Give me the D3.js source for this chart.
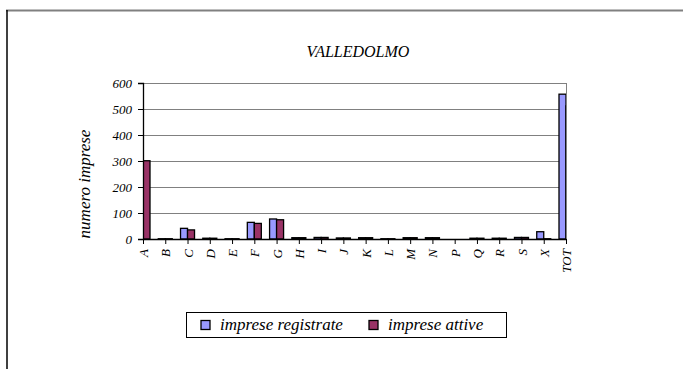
<!DOCTYPE html>
<html><head><meta charset="utf-8">
<script src="https://cdn.jsdelivr.net/npm/d3@7/dist/d3.min.js"></script>
<style>body{margin:0;background:#fff}svg{display:block}</style>
</head><body>
<script>
const categories = ["A","B","C","D","E","F","G","H","I","J","K","L","M","N","P","Q","R","S","X","TOT"];
const registrate = [307,1,41,3,1,64,77,5,6,4,5,1,5,5,0,3,3,6,28,557];
const attive     = [301,1,35,3,1,60,74,5,6,4,5,1,5,5,0,3,3,6,1,512];
const seriesNames = ["imprese registrate","imprese attive"];
const colors = ["#9999FF","#993366"];
const yTicks = [0,100,200,300,400,500,600];

const FONT='"Liberation Serif"';
const W=683,H=369;
const svg=d3.select("body").append("svg").attr("width",W).attr("height",H);
// outer frame
svg.append("line").attr("x1",6).attr("x2",683).attr("y1",10.5).attr("y2",10.5).attr("stroke","#808080").attr("stroke-width",2);
svg.append("line").attr("x1",7).attr("x2",7).attr("y1",10).attr("y2",369).attr("stroke","#000").attr("stroke-width",1.5);

const L=143,R=566,T=83,B=239;
const x=d3.scalePoint().domain(categories).range([L,R]);
const y=d3.scaleLinear().domain([0,600]).range([B,T]);
const bw=7;

// gridlines
svg.append("g").selectAll("line").data(yTicks.filter(d=>d>0)).join("line")
 .attr("x1",L).attr("x2",R).attr("y1",d=>Math.round(y(d))+0.5).attr("y2",d=>Math.round(y(d))+0.5)
 .attr("stroke","#808080").attr("stroke-width",1);
svg.append("line").attr("x1",R+0.5).attr("x2",R+0.5).attr("y1",T).attr("y2",B).attr("stroke","#808080");

svg.append("defs").append("clipPath").attr("id","clip").append("rect").attr("x",L).attr("y",T-2).attr("width",R-L).attr("height",B-T+4);
const bars=svg.append("g").attr("clip-path","url(#clip)");
[registrate,attive].forEach((vals,si)=>{
  bars.append("g").selectAll("rect").data(categories).join("rect")
   .attr("x",(c)=>x(c)+(si===0?-bw:0))
   .attr("y",(c,i)=>y(vals[i]))
   .attr("width",bw)
   .attr("height",(c,i)=>Math.max(0,B-y(vals[i])))
   .attr("fill",colors[si]).attr("stroke","#000").attr("stroke-width",1.3);
});

// y axis
const ya=svg.append("g").attr("transform",`translate(${L},0)`).call(d3.axisLeft(y).tickValues(yTicks).tickSize(5).tickPadding(6));
ya.attr("font-family",null).attr("font-size",null);
ya.select(".domain").attr("stroke","#000").attr("stroke-width",1.3);
ya.selectAll("line").attr("stroke","#000");
ya.selectAll("text").style("font-size","13px").style("font-family",FONT).style("font-style","italic").attr("fill","#000");
// x axis
const xa=svg.append("g").attr("transform",`translate(0,${B})`).call(d3.axisBottom(x).tickSize(5).tickSizeOuter(0));
xa.attr("font-family",null).attr("font-size",null);
xa.select(".domain").attr("stroke","#000").attr("stroke-width",1.3);
xa.selectAll("line").attr("stroke","#000");
xa.selectAll("text").style("font-size","13px").style("font-family",FONT).style("font-style","italic").attr("fill","#000")
 .attr("transform","rotate(-90)").attr("text-anchor","end").attr("dy","0.35em").attr("x",-10).attr("y",0);

// title
svg.append("text").attr("x",358).attr("y",57).attr("text-anchor","middle")
 .style("font-family",FONT).style("font-style","italic").style("font-size","16px").text("VALLEDOLMO");
// y label
svg.append("text").attr("transform","translate(90,184) rotate(-90)").attr("text-anchor","middle")
 .style("font-family",FONT).style("font-style","italic").style("font-size","17px").text("numero imprese");

// legend
const lg=svg.append("g");
lg.append("rect").attr("x",186.5).attr("y",312.5).attr("width",320).attr("height",25).attr("fill","#fff").attr("stroke","#000").attr("stroke-width",1);
const lx=[201,369];
seriesNames.forEach((n,i)=>{
  lg.append("rect").attr("x",lx[i]).attr("y",320.5).attr("width",9).attr("height",9).attr("fill",colors[i]).attr("stroke","#000").attr("stroke-width",1.3);
  lg.append("text").attr("x",lx[i]+19).attr("y",330).style("font-family",FONT).style("font-style","italic").style("font-size","17px").text(n);
});
</script>
</body></html>
